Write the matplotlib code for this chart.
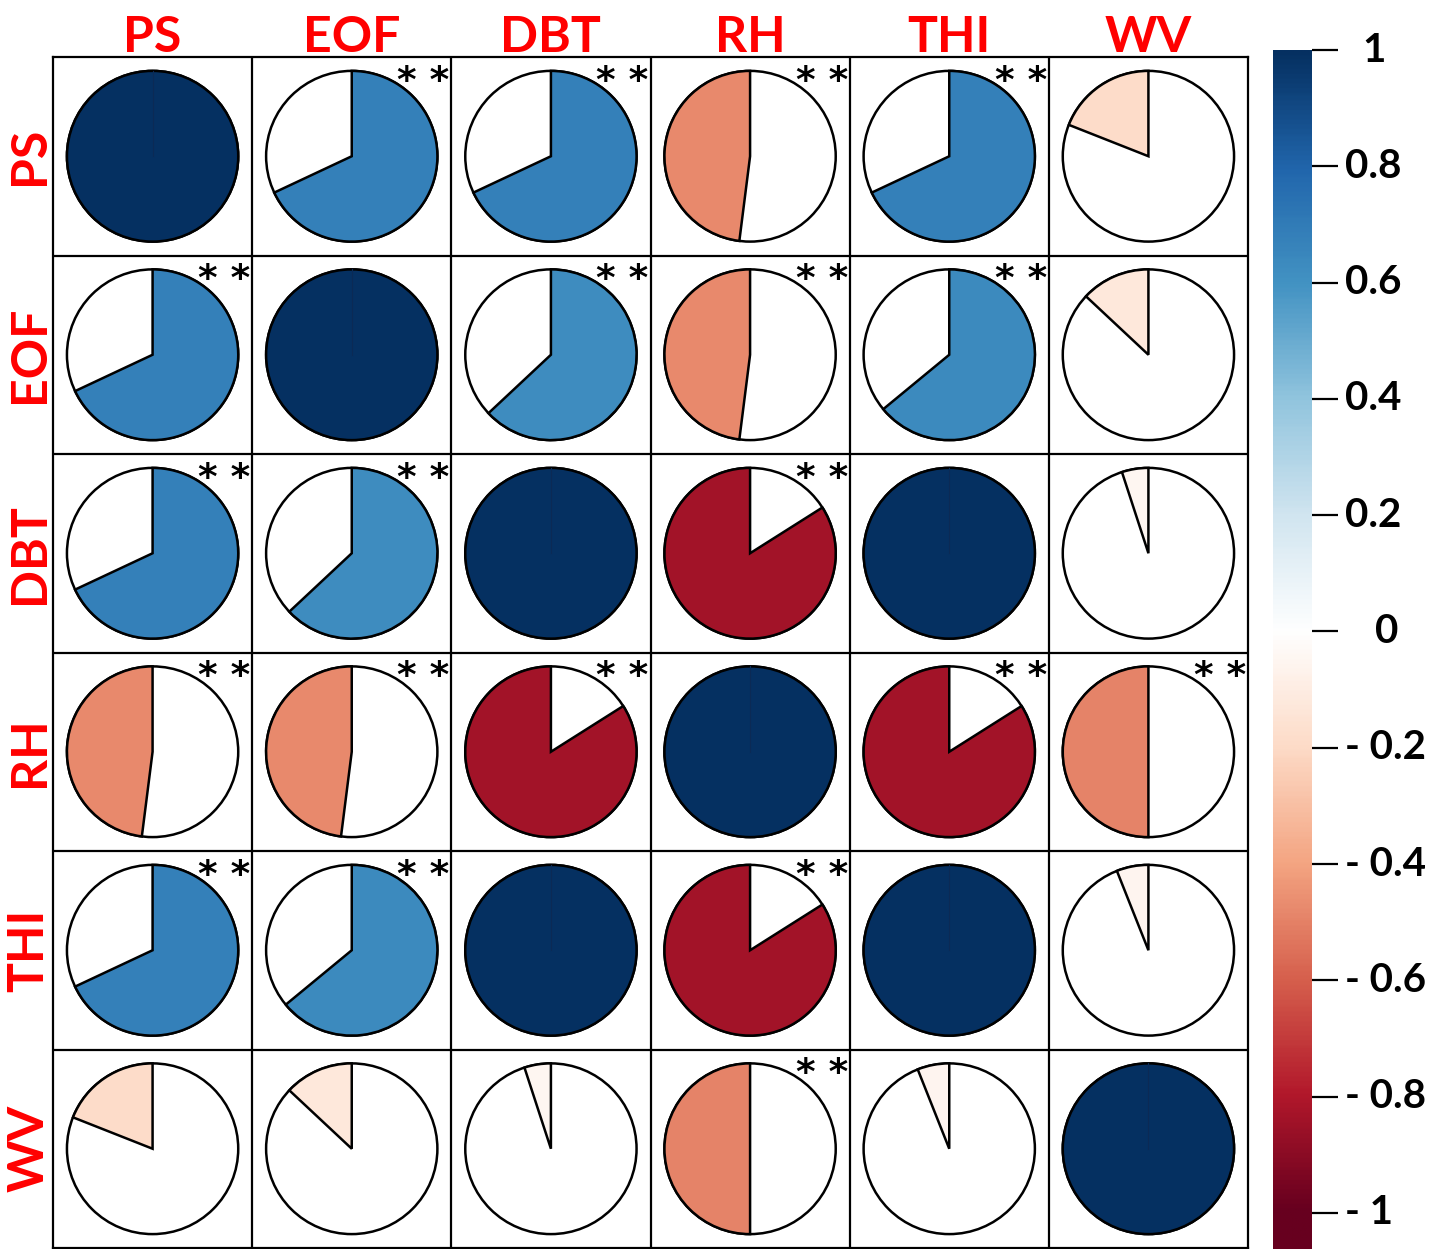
import matplotlib
matplotlib.use("Agg")
import matplotlib.pyplot as plt
import matplotlib.transforms as mtransforms
import numpy as np
from matplotlib.colors import LinearSegmentedColormap, Normalize
from matplotlib.patches import Circle, Wedge

# variables and correlation values
variables = ["PS", "EOF", "DBT", "RH", "THI", "WV"]
r_ps = [1.00, 0.68, 0.68, -0.48, 0.68, -0.19]
r_eof = [0.68, 1.00, 0.63, -0.48, 0.64, -0.13]
r_dbt = [0.68, 0.63, 1.00, -0.84, 1.00, -0.05]
r_rh = [-0.48, -0.48, -0.84, 1.00, -0.84, -0.50]
r_thi = [0.68, 0.64, 1.00, -0.84, 1.00, -0.06]
r_wv = [-0.19, -0.13, -0.05, -0.50, -0.06, 1.00]
# 1 = marked "**"
sig_ps = [0, 1, 1, 1, 1, 0]
sig_eof = [1, 0, 1, 1, 1, 0]
sig_dbt = [1, 1, 0, 1, 0, 0]
sig_rh = [1, 1, 1, 0, 1, 1]
sig_thi = [1, 1, 0, 1, 0, 0]
sig_wv = [0, 0, 0, 1, 0, 0]
bar_ticks = [1, 0.8, 0.6, 0.4, 0.2, 0, -0.2, -0.4, -0.6, -0.8, -1]
bar_labels = ["1", "0.8", "0.6", "0.4", "0.2", "0", "- 0.2", "- 0.4", "- 0.6", "- 0.8", "- 1"]

corr = np.array([r_ps, r_eof, r_dbt, r_rh, r_thi, r_wv])
sig = np.array([sig_ps, sig_eof, sig_dbt, sig_rh, sig_thi, sig_wv])

cmap = LinearSegmentedColormap.from_list("corr", [
    "#67001F", "#B2182B", "#D6604D", "#F4A582", "#FDDBC7", "#FFFFFF",
    "#D1E5F0", "#92C5DE", "#4393C3", "#2166AC", "#053061"])
norm = Normalize(-1, 1)

W, H = 1456, 1249
fig = plt.figure(figsize=(W / 100, H / 100), dpi=100)
ax = fig.add_axes([53 / W, 1 / H, 1195 / W, 1191 / H])
n = len(variables)
ax.set_xlim(0, n)
ax.set_ylim(0, n)
ax.set_xticks([]); ax.set_yticks([])
for s in ax.spines.values():
    s.set_linewidth(1.6)
for k in range(1, n):
    ax.axhline(k, color="black", lw=1.6); ax.axvline(k, color="black", lw=1.6)

rad = 0.43
lw = 1.8
for i in range(n):
    for j in range(n):
        cx, cy = j + 0.5, n - i - 0.5
        r = corr[i, j]
        ax.add_patch(Circle((cx, cy), rad, facecolor="white", edgecolor="black", lw=lw, zorder=2))
        if abs(r) >= 0.999:
            ax.add_patch(Circle((cx, cy), rad, facecolor=cmap(norm(r)), edgecolor="black", lw=lw, zorder=3))
            ax.plot([cx, cx], [cy, cy + rad], color="#0b2a55", lw=0.8, zorder=4)
        elif r > 0:
            ax.add_patch(Wedge((cx, cy), rad, 90 - 360 * r, 90, facecolor=cmap(norm(r)),
                               edgecolor="black", lw=lw, zorder=3))
        else:
            ax.add_patch(Wedge((cx, cy), rad, 90, 90 - 360 * r, facecolor=cmap(norm(r)),
                               edgecolor="black", lw=lw, zorder=3))
        if sig[i, j]:
            ax.text(j + 0.86, n - i - 0.125, "* *", ha="center", va="center",
                    fontsize=27, fontweight="bold", zorder=5)

for k, name in enumerate(variables):
    ax.text(k + 0.5, n + 0.025, name, ha="center", va="baseline", color="red",
            fontsize=36, fontweight="bold", family="Lato", clip_on=False)
    ax.text(-0.12, n - k - 0.5, name, ha="center", va="center", rotation=90, color="red",
            fontsize=36, fontweight="bold", family="Lato", clip_on=False)

# colour bar
cax = fig.add_axes([1273 / W, 0, 39 / W, 1199 / H])
lo = -1.062
grad = np.linspace(1, lo, 500)[:, None]
cax.imshow(grad, cmap=cmap, norm=norm, aspect="auto", extent=[0, 1, lo, 1])
cax.set_ylim(lo, 1)
cax.set_xticks([])
cax.yaxis.tick_right()
cax.set_yticks(bar_ticks)
cax.set_yticklabels([])
cax.tick_params(axis="y", length=19, width=1.6, direction="out")
for s in cax.spines.values():
    s.set_visible(False)
trans = mtransforms.blended_transform_factory(fig.transFigure, cax.transData)
for t, lab in zip(bar_ticks, bar_labels):
    x = {"1": 1362, "0": 1375}.get(lab, 1345)
    fig.text(x / W, t, lab, transform=trans, ha="left", va="center",
             fontsize=29, fontweight="bold", family="Lato")

fig.savefig("out.png", dpi=100)
